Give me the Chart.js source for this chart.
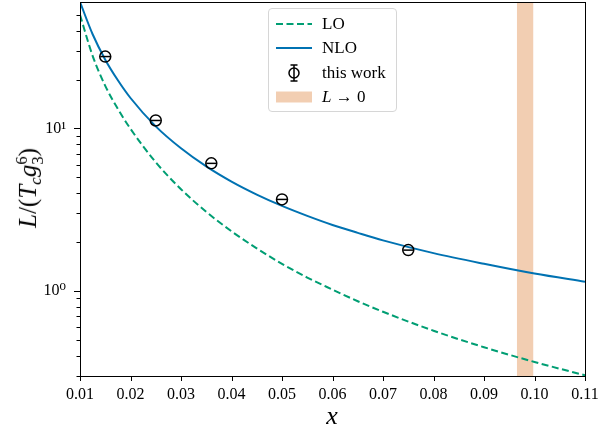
<!DOCTYPE html>
<html>
<head>
<meta charset="utf-8">
<script src="https://cdn.jsdelivr.net/npm/chart.js@4.4.1/dist/chart.umd.min.js"></script>
<style>
  html, body { margin: 0; padding: 0; background: #fff; }
  #wrap { position: relative; width: 613px; height: 431px; overflow: hidden; }
  #chart { position: absolute; left: 0; top: 0; }
  .serif { font-family: "Liberation Serif", "DejaVu Serif", serif; color: #000; }
  .it { font-style: italic; }
  #ytitle { position: absolute; left: 30px; top: 188px; font-size: 25px; white-space: nowrap;
            transform: translate(-50%, -50%) rotate(-90deg); }
  #xtitle { position: absolute; left: 332px; top: 416px; font-size: 26px; transform: translate(-50%, -50%); }
  .sub { font-size: 0.68em; vertical-align: -0.3em; font-style: italic; }
  .ss { display: inline-block; vertical-align: -0.42em; font-size: 0.66em; line-height: 0.95em; font-style: normal; text-align: left; }
  .ss span { display: block; }
  #legend { position: absolute; left: 268px; top: 8px; width: 127px; height: 102px;
            border: 1px solid #d6d6d6; border-radius: 4px; background: rgba(255,255,255,0.8); }
  #legend .row { position: absolute; left: 0; height: 20px; width: 127px; }
  #legend svg { position: absolute; left: 6px; top: 0; }
  #legend .lab { position: absolute; left: 53px; top: 0; font-size: 17px; line-height: 20px; white-space: nowrap; }
</style>
</head>
<body>
<div id="wrap">
  <canvas id="chart" width="613" height="431"></canvas>
  <div id="ytitle" class="serif"><span class="it">L</span>/(<span class="it">T</span><span class="sub">c</span><span class="it">g</span><span class="ss"><span>6</span><span>3</span></span>)</div>
  <div id="xtitle" class="serif it">x</div>
  <div id="legend" class="serif">
    <div class="row" style="top:5px">
      <svg width="38" height="20"><line x1="1" y1="10" x2="37" y2="10" stroke="#009E73" stroke-width="2" stroke-dasharray="7 3.5"/></svg>
      <span class="lab">LO</span>
    </div>
    <div class="row" style="top:29px">
      <svg width="38" height="20"><line x1="1" y1="10" x2="37" y2="10" stroke="#0072B2" stroke-width="2"/></svg>
      <span class="lab">NLO</span>
    </div>
    <div class="row" style="top:54px">
      <svg width="38" height="20">
        <line x1="19" y1="2" x2="19" y2="18" stroke="#000" stroke-width="1.5"/>
        <line x1="15.5" y1="2" x2="22.5" y2="2" stroke="#000" stroke-width="1.5"/>
        <line x1="15.5" y1="18" x2="22.5" y2="18" stroke="#000" stroke-width="1.5"/>
        <circle cx="19" cy="10" r="5" fill="none" stroke="#000" stroke-width="1.5"/>
      </svg>
      <span class="lab">this work</span>
    </div>
    <div class="row" style="top:78px">
      <svg width="38" height="20"><rect x="1" y="4.5" width="36" height="11" fill="rgba(213,94,0,0.3)"/></svg>
      <span class="lab"><span class="it">L</span> &rarr; 0</span>
    </div>
  </div>
</div>
<script>
  // values
  const xGrid = [0.01, 0.0125, 0.015, 0.0175, 0.02, 0.025, 0.03, 0.035, 0.04, 0.045,
                 0.05, 0.055, 0.06, 0.065, 0.07, 0.08, 0.09, 0.10, 0.11];
  const loValues = [50, 28.0, 18.3, 13.2, 9.95, 6.2, 4.23, 3.07, 2.33, 1.83,
                    1.47, 1.21, 1.02, 0.865, 0.745, 0.570, 0.451, 0.366, 0.303];
  const nloValues = [60, 38.0, 26.5, 19.8, 15.4, 10.3, 7.55, 5.84, 4.71, 3.92,
                     3.34, 2.90, 2.55, 2.28, 2.05, 1.71, 1.47, 1.28, 1.14];
  const workX = [0.015, 0.025, 0.036, 0.05, 0.075];
  const workY = [27.7, 11.2, 6.1, 3.66, 1.785];
  const bandRange = [0.0965, 0.0998];
  const xTicks = [0.01, 0.02, 0.03, 0.04, 0.05, 0.06, 0.07, 0.08, 0.09, 0.10, 0.11];
  const yTicks = [0.3, 0.4, 0.5, 0.6, 0.7, 0.8, 0.9, 1, 2, 3, 4, 5, 6, 7, 8, 9, 10, 20, 30, 40, 50];
  const yMajor = { 1: '10\u2070', 10: '10\u00b9' };
  const yMin = 0.3, yMax = 60;

  const serif = '"Liberation Serif", "DejaVu Serif", serif';

  // box around the plot and outward tick marks
  const frame = {
    id: 'frame',
    afterDatasetsDraw(chart) {
      const c = chart.ctx;
      const a = chart.chartArea;
      const xs = chart.scales.x, ys = chart.scales.y;
      c.save();
      c.strokeStyle = '#000';
      c.lineWidth = 1;
      c.strokeRect(Math.round(a.left) + 0.5, Math.round(a.top) + 0.5,
                   Math.round(a.right - a.left), Math.round(a.bottom - a.top));
      c.beginPath();
      xTicks.forEach(v => {
        const px = Math.round(xs.getPixelForValue(v)) + 0.5;
        c.moveTo(px, a.bottom);
        c.lineTo(px, a.bottom + 5);
      });
      yTicks.forEach(v => {
        const py = Math.round(ys.getPixelForValue(v)) + 0.5;
        const len = yMajor[v] ? 6 : 3.5;
        c.moveTo(a.left, py);
        c.lineTo(a.left - len, py);
      });
      c.stroke();
      c.restore();
    }
  };

  const ctx = document.getElementById('chart');

  new Chart(ctx, {
    type: 'line',
    data: {
      datasets: [
        {
          label: 'this work',
          data: workX.map((x, i) => ({ x: x, y: workY[i] })),
          showLine: false,
          pointStyle: 'circle',
          pointRadius: 5.5,
          borderColor: '#000',
          backgroundColor: 'rgba(0,0,0,0)',
          borderWidth: 1.5,
          order: 0
        },
        {
          label: 'caps',
          data: workX.map((x, i) => ({ x: x, y: workY[i] })),
          showLine: false,
          pointStyle: 'line',
          pointRadius: 5,
          borderColor: '#000',
          borderWidth: 1.5,
          order: 0
        },
        {
          label: 'NLO',
          data: xGrid.map((x, i) => ({ x: x, y: nloValues[i] })),
          borderColor: '#0072B2',
          borderWidth: 2,
          pointRadius: 0,
          cubicInterpolationMode: 'monotone',
          fill: false,
          order: 1
        },
        {
          label: 'LO',
          data: xGrid.map((x, i) => ({ x: x, y: loValues[i] })),
          borderColor: '#009E73',
          borderWidth: 2,
          borderDash: [7, 3.5],
          pointRadius: 0,
          cubicInterpolationMode: 'monotone',
          fill: false,
          order: 2
        },
        {
          label: 'L \u2192 0',
          data: [{ x: bandRange[0], y: yMax }, { x: bandRange[1], y: yMax }],
          borderWidth: 0,
          pointRadius: 0,
          backgroundColor: 'rgba(213,94,0,0.3)',
          fill: 'start',
          order: 5
        }
      ]
    },
    options: {
      responsive: false,
      animation: false,
      layout: { autoPadding: false, padding: { left: 0, top: 2, right: 28, bottom: 0 } },
      scales: {
        x: {
          type: 'linear',
          min: 0.01,
          max: 0.11,
          afterFit: s => { s.height = 55; s.paddingLeft = 0; s.paddingRight = 0; },
          afterBuildTicks: s => { s.ticks = xTicks.map(v => ({ value: v })); },
          grid: { display: false },
          border: { display: false },
          ticks: {
            autoSkip: false,
            maxRotation: 0,
            padding: 1,
            color: '#000',
            font: { family: serif, size: 16 },
            callback: v => v.toFixed(2)
          }
        },
        y: {
          type: 'logarithmic',
          min: yMin,
          max: yMax,
          afterFit: s => { s.width = 80; s.paddingTop = 0; s.paddingBottom = 0; },
          afterBuildTicks: s => { s.ticks = yTicks.map(v => ({ value: v })); },
          grid: { display: false },
          border: { display: false },
          ticks: {
            autoSkip: false,
            padding: 6,
            color: '#000',
            font: { family: serif, size: 16 },
            callback: v => yMajor[v] || ''
          }
        }
      },
      plugins: {
        legend: { display: false },
        tooltip: { enabled: false }
      }
    },
    plugins: [frame]
  });
</script>
</body>
</html>
